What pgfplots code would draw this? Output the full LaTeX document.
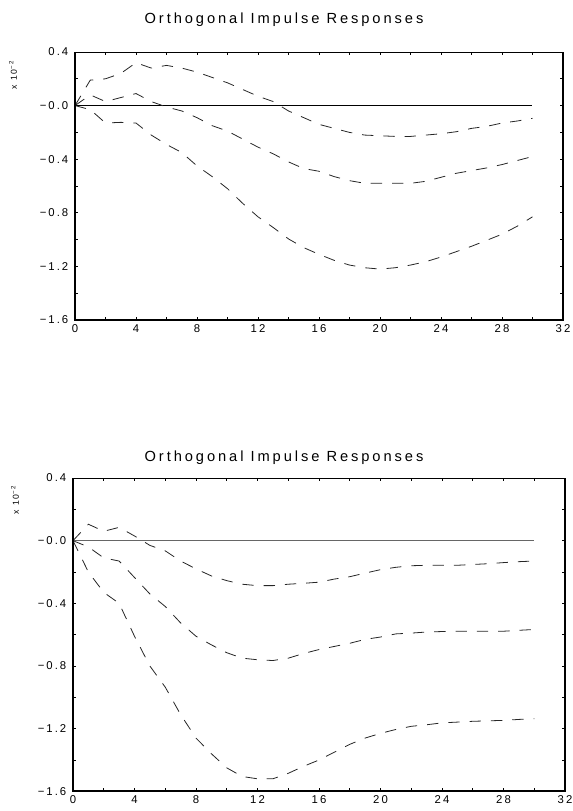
\documentclass[border=0pt]{standalone}
\usepackage{fontspec}
\usepackage{pgfplots}
\usepackage{pgfplotstable}
\pgfplotsset{compat=1.18}
\setmainfont{Liberation Sans}
\newfontfamily\titlefam[LetterSpace=20]{Liberation Sans}
\newfontfamily\tickfam[LetterSpace=18]{Liberation Sans}
\newcommand\tickfont{\tickfam\fontsize{8.5}{9}\selectfont}
\newcommand\titlefont{\titlefam\fontsize{11}{13}\selectfont}

\pgfplotstableread{
t up mid lo
0 0 0 0
1 0.19 0.08 -0.03
2 0.20 0.03 -0.13
3 0.24 0.06 -0.125
4 0.32 0.09 -0.13
5 0.28 0.03 -0.22
6 0.30 -0.01 -0.29
7 0.28 -0.04 -0.35
8 0.25 -0.09 -0.45
9 0.21 -0.15 -0.53
10 0.17 -0.19 -0.62
11 0.12 -0.25 -0.73
12 0.07 -0.31 -0.83
13 0.03 -0.36 -0.91
14 -0.04 -0.42 -0.995
15 -0.09 -0.47 -1.06
16 -0.14 -0.49 -1.11
17 -0.17 -0.53 -1.155
18 -0.20 -0.56 -1.19
19 -0.22 -0.58 -1.21
20 -0.225 -0.58 -1.22
21 -0.23 -0.58 -1.21
22 -0.23 -0.58 -1.19
23 -0.22 -0.565 -1.165
24 -0.21 -0.535 -1.13
25 -0.195 -0.505 -1.09
26 -0.17 -0.485 -1.05
27 -0.155 -0.465 -1.005
28 -0.13 -0.44 -0.96
29 -0.115 -0.41 -0.9
30 -0.095 -0.38 -0.83
}\toptable

\pgfplotstableread{
t up mid lo
0 0 0 0
1 0.105 -0.04 -0.2
2 0.06 -0.11 -0.33
3 0.085 -0.13 -0.4
4 0.03 -0.235 -0.61
5 -0.03 -0.34 -0.8
6 -0.065 -0.42 -0.935
7 -0.13 -0.525 -1.11
8 -0.18 -0.61 -1.26
9 -0.225 -0.665 -1.36
10 -0.255 -0.715 -1.45
11 -0.278 -0.75 -1.505
12 -0.287 -0.76 -1.52
13 -0.287 -0.765 -1.52
14 -0.278 -0.75 -1.485
15 -0.272 -0.72 -1.44
16 -0.265 -0.695 -1.40
17 -0.245 -0.675 -1.35
18 -0.23 -0.655 -1.30
19 -0.207 -0.63 -1.26
20 -0.185 -0.615 -1.23
21 -0.17 -0.595 -1.205
22 -0.16 -0.59 -1.185
23 -0.157 -0.583 -1.175
24 -0.157 -0.58 -1.163
25 -0.157 -0.578 -1.158
26 -0.152 -0.578 -1.153
27 -0.147 -0.578 -1.15
28 -0.14 -0.578 -1.147
29 -0.134 -0.572 -1.141
30 -0.13 -0.567 -1.136
}\bottable

\begin{document}
\begin{tikzpicture}
\useasboundingbox (0,0) rectangle (429.75pt,-608.25pt);
\pgfplotsset{
  irf/.style={
    scale only axis, anchor=north west, clip=false,
    xmin=0, xmax=32, ymin=-1.6, ymax=0.4,
    xtick={0,4,...,32}, minor x tick num=1,
    ytick={-1.6,-1.2,-0.8,-0.4,0,0.4}, minor y tick num=1,
    yticklabels={−1.6,−1.2,−0.8,−0.4,−0.0,0.4},
    tick align=inside, major tick length=2.5pt, minor tick length=2.5pt,
    tick style={black, line width=0.6pt},
    axis line style={line width=0.7pt},
    ticklabel style={font=\tickfont},
    yticklabel style={xshift=-1.5pt},
    /pgf/number format/assume math mode=true,
    after end axis/.code={
      \draw[line width=1.5pt] (rel axis cs:0,1) -- (rel axis cs:0,0) -- (rel axis cs:1,0) -- (rel axis cs:1,1);
    },
  },
  dl/.style={black!85, line width=0.6pt, dash pattern=on 8.5pt off 7.5pt},
}
% top panel
\begin{axis}[irf, at={(56.25pt,-39pt)}, width=366pt, height=201pt]
\addplot[black, line width=0.5pt] coordinates {(0,0) (30,0)};
\addplot[dl] table[x=t,y=up] {\toptable};
\addplot[dl] table[x=t,y=mid] {\toptable};
\addplot[dl] table[x=t,y=lo] {\toptable};
\end{axis}
% bottom panel
\begin{axis}[irf, at={(54.75pt,-358.5pt)}, width=369pt, height=235pt]
\addplot[black!60, line width=1pt] coordinates {(0,0) (30,0)};
\addplot[dl] table[x=t,y=up] {\bottable};
\addplot[dl] table[x=t,y=mid] {\bottable};
\addplot[dl] table[x=t,y=lo] {\bottable};
\end{axis}
\node[font=\titlefont] at (213pt,-15pt) {Orthogonal Impulse Responses};
\node[font=\titlefont] at (213pt,-343.5pt) {Orthogonal Impulse Responses};
\node[rotate=90, font=\tickfam\fontsize{6.5}{7}\selectfont] at (9.75pt,-56.25pt) {x 10\textsuperscript{−2}};
\node[rotate=90, font=\tickfam\fontsize{6.5}{7}\selectfont] at (11.25pt,-375pt) {x 10\textsuperscript{−2}};
\end{tikzpicture}
\end{document}
